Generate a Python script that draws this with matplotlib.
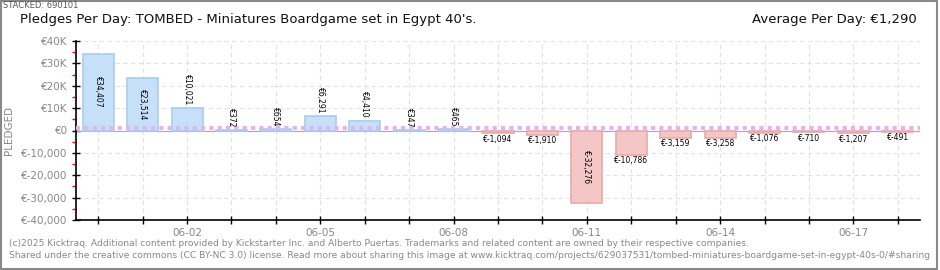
import matplotlib
matplotlib.use("Agg")
import matplotlib.pyplot as plt
from matplotlib.patches import Rectangle

days = ["05-31", "06-01", "06-02", "06-03", "06-04", "06-05", "06-06", "06-07", "06-08", "06-09",
        "06-10", "06-11", "06-12", "06-13", "06-14", "06-15", "06-16", "06-17", "06-18"]
pledged = [34407, 23514, 10021, 372, 654, 6291, 4410, 347, 465, -1094,
           -1910, -32276, -10786, -3159, -3258, -1076, -710, -1207, -491]
average = 1290
ytick_vals = [40000, 30000, 20000, 10000, 0, -10000, -20000, -30000, -40000]
ytick_labels = ["€40K", "€30K", "€20K", "€10K", "€0", "€-10,000", "€-20,000", "€-30,000", "€-40,000"]
xlabel_days = ["06-02", "06-05", "06-08", "06-11", "06-14", "06-17"]

W, H = 940, 270
fig = plt.figure(figsize=(W / 100, H / 100), dpi=100)
fig.patch.set_facecolor("white")
fig.patches.append(Rectangle((0.001, 0.004), 0.996, 0.994, transform=fig.transFigure,
                             fill=False, edgecolor="#888888", lw=1.5))

ax = fig.add_axes([76 / W, 1 - 220 / H, (920 - 76) / W, (220 - 41) / H])
x = list(range(len(days)))
pos_fc, pos_ec = "#c6e0f9", "#a9cdea"
neg_fc, neg_ec = "#f4c6c6", "#e6aaaa"
colors = [pos_fc if v >= 0 else neg_fc for v in pledged]
edges = [pos_ec if v >= 0 else neg_ec for v in pledged]
ax.bar(x, pledged, width=0.7, color=colors, edgecolor=edges, linewidth=1.2, zorder=3)

ax.set_xlim(-0.5, len(days) - 0.5)
ax.set_ylim(-40000, 40000)
ax.set_yticks(ytick_vals)
ax.set_yticklabels(ytick_labels, color="#888888", fontsize=7.5)
ax.set_yticks([35000, 25000, 15000, 5000, -5000, -15000, -25000, -35000], minor=True)
ax.tick_params(axis="y", which="minor", direction="out", length=3, color="red", width=1)
ax.tick_params(axis="y", which="major", direction="inout", length=6, color="black", width=1, pad=3)
ax.set_xticks(x)
ax.set_xticklabels([d if d in xlabel_days else "" for d in days], color="#888888", fontsize=7.5)
ax.tick_params(axis="x", direction="inout", length=6, color="black", width=1, pad=3)

ax.grid(True, color="#e2e2e2", linestyle=(0, (4, 3)), linewidth=0.8, zorder=0)
for s in ["top", "right"]:
    ax.spines[s].set_visible(False)
ax.spines["left"].set_linewidth(1.2)
ax.spines["bottom"].set_linewidth(1.2)
ax.axhline(0, color="#aaaaaa", lw=0.8, zorder=2)
ax.axhline(average, color="#e6b3f0", lw=3, linestyle=(0, (1, 1)), zorder=4)

ax.set_ylabel("PLEDGED", color="#888888", fontsize=7.5, labelpad=5)

for xi, v in zip(x, pledged):
    lab = "€{:,}".format(v)
    if v >= 0:
        if v > 20000:
            ax.text(xi, v / 2, lab, rotation=-90, ha="center", va="center", fontsize=5.5, zorder=5)
        else:
            ax.text(xi, v + 1200, lab, rotation=-90, ha="center", va="bottom", fontsize=5.5, zorder=5)
    else:
        if v < -20000:
            ax.text(xi, v / 2, lab, rotation=-90, ha="center", va="center", fontsize=5.5, zorder=5)
        else:
            ax.text(xi, v - 700, lab, ha="center", va="top", fontsize=5.5, zorder=5)

fig.text(3 / W, 1 - 5 / H, "STACKED: 690101", fontsize=6, color="#555555", va="center", ha="left")
fig.text(20 / W, 1 - 20 / H, "Pledges Per Day: TOMBED - Miniatures Boardgame set in Egypt 40's.",
         fontsize=9.5, color="#111111", va="center", ha="left")
fig.text(917 / W, 1 - 20 / H, "Average Per Day: €1,290", fontsize=9.5, color="#111111",
         va="center", ha="right")
fig.text(9 / W, 1 - 243 / H,
         "(c)2025 Kicktraq. Additional content provided by Kickstarter Inc. and Alberto Puertas. Trademarks and related content are owned by their respective companies.",
         fontsize=6.6, color="#888888", va="center", ha="left")
fig.text(9 / W, 1 - 256 / H,
         "Shared under the creative commons (CC BY-NC 3.0) license. Read more about sharing this image at www.kicktraq.com/projects/629037531/tombed-miniatures-boardgame-set-in-egypt-40s-0/#sharing",
         fontsize=6.6, color="#888888", va="center", ha="left")

fig.savefig("out.png", dpi=100)
